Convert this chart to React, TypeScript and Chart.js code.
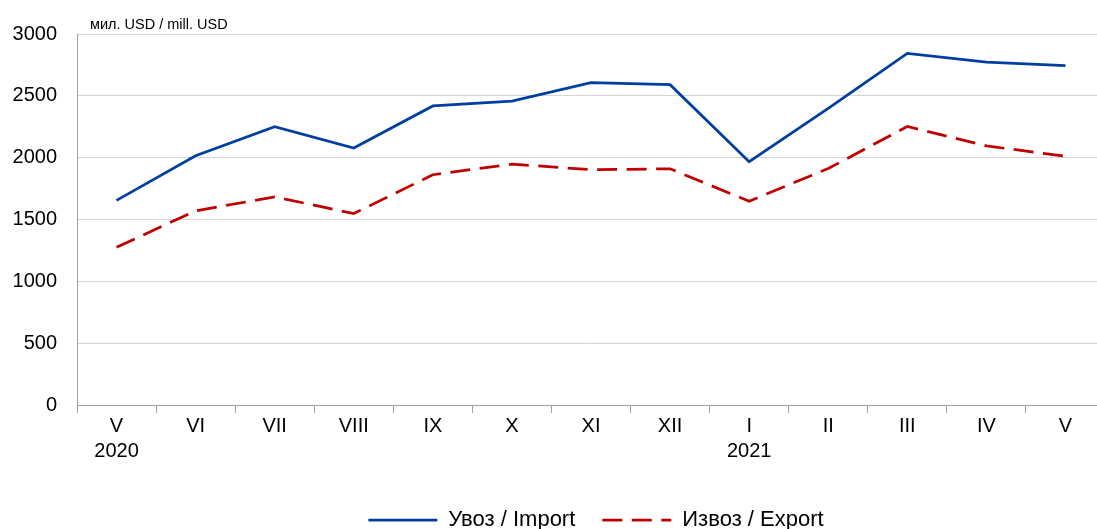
import React, { useEffect, useRef } from "react";
import { Chart, registerables } from "chart.js";

Chart.register(...registerables);

const categories: (string | string[])[] = [
  ["V", "2020"], "VI", "VII", "VIII", "IX", "X", "XI", "XII",
  ["I", "2021"], "II", "III", "IV", "V",
];
const importValues = [1655, 2015, 2250, 2078, 2418, 2458, 2606, 2590, 1968, 2398, 2843, 2772, 2745];
const exportValues = [1275, 1570, 1683, 1548, 1862, 1948, 1903, 1910, 1648, 1912, 2252, 2095, 2012];
const yTicks = [0, 500, 1000, 1500, 2000, 2500, 3000];
const unitLabel = "мил. USD / mill. USD";
const importLabel = "Увоз / Import";
const exportLabel = "Извоз / Export";

const FONT = "'Liberation Sans', Arial, sans-serif";
const LINE_W = 2.75;
const DASH = [20, 9.5];

const unitPlugin = {
  id: "unitLabel",
  afterLayout(chart: any) {
    if (chart.legend) {
      chart.legend.left += 5;
      chart.legend.right += 5;
    }
  },
  afterDraw(chart: any) {
    const { ctx, chartArea } = chart;
    ctx.save();
    ctx.font = `14.5px ${FONT}`;
    ctx.fillStyle = "#000";
    ctx.textAlign = "left";
    ctx.textBaseline = "alphabetic";
    ctx.fillText(unitLabel, chartArea.left + 13, chartArea.top - 5);
    ctx.restore();
  },
};

export default function App() {
  const ref = useRef<HTMLCanvasElement | null>(null);
  useEffect(() => {
    if (!ref.current) return;
    const chart = new Chart(ref.current, {
      type: "line",
      data: {
        labels: categories,
        datasets: [
          {
            label: importLabel,
            data: importValues,
            borderColor: "#003f9f",
            backgroundColor: "#003f9f",
            borderWidth: LINE_W,
            pointRadius: 0,
            tension: 0,
          },
          {
            label: exportLabel,
            data: exportValues,
            borderColor: "#c00000",
            backgroundColor: "#c00000",
            borderWidth: LINE_W,
            borderDash: DASH,
            pointRadius: 0,
            tension: 0,
          },
        ],
      },
      options: {
        responsive: false,
        animation: false,
        devicePixelRatio: 1,
        layout: { padding: { top: 34, left: 0, right: 0, bottom: 0 } },
        plugins: {
          tooltip: { enabled: false },
          legend: {
            position: "bottom",
            fullSize: false,
            labels: {
              usePointStyle: true,
              pointStyle: "line",
              pointStyleWidth: 69,
              padding: 27,
              color: "#000",
              font: { family: FONT, size: 22 },
              generateLabels: (c: any) => {
                const items = Chart.defaults.plugins.legend.labels.generateLabels(c);
                items.forEach((it: any, i: number) => {
                  const ds = c.data.datasets[i];
                  it.lineDash = ds.borderDash || [];
                  it.strokeStyle = ds.borderColor;
                  it.fillStyle = ds.borderColor;
                  it.lineWidth = LINE_W;
                  it.pointStyle = "line";
                });
                return items;
              },
            },
          },
        },
        scales: {
          x: {
            offset: true,
            afterFit: (s: any) => { s.height = 77; },
            grid: {
              display: true,
              offset: true,
              drawOnChartArea: false,
              drawTicks: true,
              tickLength: 8,
              color: "#a0a0a0",
            },
            border: { display: true, color: "#a0a0a0", width: 1 },
            ticks: {
              color: "#000",
              padding: 1,
              maxRotation: 0,
              autoSkip: false,
              font: { family: FONT, size: 20, lineHeight: 1.25 },
            },
          },
          y: {
            min: 0,
            max: 3000,
            afterFit: (s: any) => { s.width = 77; },
            afterBuildTicks: (s: any) => { s.ticks = yTicks.map((v) => ({ value: v })); },
            grid: { color: "#d4d4d4", drawTicks: false },
            border: { display: true, color: "#a0a0a0", width: 1 },
            ticks: {
              color: "#000",
              padding: 20,
              font: { family: FONT, size: 20 },
              callback: (v: any) => String(v),
            },
          },
        },
      },
      plugins: [unitPlugin],
    } as any);
    return () => chart.destroy();
  }, []);
  return (
    <div style={{ position: "fixed", left: 0, top: 0, width: 1097, height: 529, overflow: "hidden", background: "#fff" }}>
      <canvas ref={ref} width={1105} height={541} style={{ width: 1105, height: 541, display: "block" }} />
    </div>
  );
}
